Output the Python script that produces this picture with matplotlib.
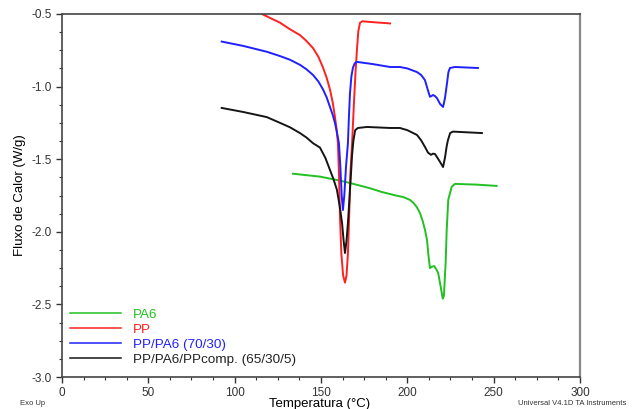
import numpy as np
import matplotlib.pyplot as plt

plt.switch_backend('agg')
plt.rcParams['font.family'] = ['Liberation Sans', 'DejaVu Sans']

# DSC curves (T in C, heat flow in W/g)
t_pa6 = [133.8, 149.4, 160.0, 166.8, 178.4, 185.0, 190.0, 194.0, 197.5, 199.5, 201.5, 203.5,
         205.5, 207.3, 209.0, 210.3, 211.4, 212.3, 213.1, 214.3, 215.6, 216.8, 217.8, 219.2,
         220.5, 221.2, 222.2, 222.8, 223.7, 225.7, 227.6, 240.0, 251.7]
y_pa6 = [-1.60, -1.62, -1.645, -1.664, -1.70, -1.725, -1.74, -1.752, -1.76, -1.77, -1.78, -1.80,
         -1.83, -1.87, -1.93, -1.99, -2.056, -2.17, -2.25, -2.24, -2.236, -2.26, -2.28, -2.37,
         -2.46, -2.44, -2.21, -1.99, -1.78, -1.69, -1.67, -1.675, -1.684]

t_pp = [115.8, 121.0, 126.3, 132.0, 137.8, 141.5, 145.4, 148.5, 151.2, 153.3, 155.2, 156.8,
        158.1, 159.1, 159.8, 160.4, 161.0, 161.8, 162.8, 163.9, 164.8, 165.6, 166.3, 167.0,
        168.0, 169.1, 170.0, 170.8, 171.6, 172.6, 174.0, 176.6, 182.0, 190.0]
y_pp = [-0.50, -0.53, -0.56, -0.605, -0.645, -0.685, -0.735, -0.795, -0.87, -0.94, -1.02, -1.11,
        -1.21, -1.30, -1.39, -1.60, -1.90, -2.15, -2.30, -2.35, -2.30, -2.15, -1.90, -1.60,
        -1.39, -1.11, -0.90, -0.75, -0.62, -0.56, -0.55, -0.553, -0.558, -0.565]

t_blend = [92.5, 105.0, 118.6, 126.3, 132.0, 137.8, 141.5, 145.4, 148.5, 151.2, 153.3, 155.2,
           156.8, 158.1, 159.3, 160.4, 161.2, 162.0, 162.7, 163.5, 164.5, 165.6, 166.2, 166.8,
           167.6, 168.5, 169.5, 170.8, 180.0, 190.0, 195.7, 200.0, 205.6, 208.0, 210.2, 211.8,
           213.1, 214.0, 214.9, 216.0, 217.2, 219.0, 220.7, 221.8, 223.0, 223.8, 224.7, 227.6,
           240.9]
y_blend = [-0.69, -0.72, -0.76, -0.79, -0.815, -0.85, -0.88, -0.92, -0.965, -1.02, -1.075, -1.14,
           -1.195, -1.25, -1.32, -1.39, -1.55, -1.75, -1.85, -1.75, -1.55, -1.39, -1.20, -1.045,
           -0.93, -0.87, -0.84, -0.83, -0.845, -0.865, -0.865, -0.875, -0.90, -0.92, -0.955, -1.02,
           -1.07, -1.065, -1.058, -1.065, -1.08, -1.12, -1.14, -1.08, -0.975, -0.90, -0.872, -0.865,
           -0.872]

t_comp = [92.5, 105.0, 118.6, 126.3, 132.0, 137.8, 141.5, 145.4, 149.4, 152.5, 155.2, 157.3,
          159.2, 160.8, 162.2, 163.1, 163.9, 164.8, 165.6, 166.5, 167.4, 168.0, 168.8, 169.8,
          171.4, 176.6, 190.0, 195.7, 200.0, 205.6, 208.0, 210.2, 212.0, 213.7, 214.8, 216.0,
          218.5, 220.7, 221.8, 222.8, 223.5, 224.8, 226.4, 243.2]
y_comp = [-1.147, -1.175, -1.21, -1.25, -1.28, -1.32, -1.35, -1.39, -1.42, -1.49, -1.574, -1.64,
          -1.71, -1.82, -1.94, -2.06, -2.146, -2.06, -1.94, -1.77, -1.595, -1.47, -1.37, -1.30,
          -1.285, -1.278, -1.285, -1.285, -1.30, -1.333, -1.37, -1.415, -1.455, -1.47, -1.462, -1.464,
          -1.51, -1.554, -1.49, -1.41, -1.37, -1.32, -1.31, -1.32]

labels = ['PA6', 'PP', 'PP/PA6 (70/30)', 'PP/PA6/PPcomp. (65/30/5)']
colors = ['#22c022', '#ff2020', '#2020ff', '#151515']

fig = plt.figure(figsize=(6.32, 4.09), dpi=100)
ax = fig.add_axes([0.0981, 0.0782, 0.8196, 0.8876])

series = [(t_pa6, y_pa6), (t_pp, y_pp), (t_blend, y_blend), (t_comp, y_comp)]
for (t, y), lab, c in zip(series, labels, colors):
    ax.plot(t, y, color=c, lw=1.4, label=lab)

ax.set_xlim(0, 300)
ax.set_ylim(-3.0, -0.5)
ax.set_xticks(np.arange(0, 301, 50))
ax.set_xticks(np.arange(0, 301, 12.5), minor=True)
ax.set_yticks(np.arange(-3.0, -0.49, 0.5))
ax.set_yticks(np.arange(-3.0, -0.49, 0.125), minor=True)
ax.yaxis.set_major_formatter(plt.FormatStrFormatter('%.1f'))
ax.tick_params(which='major', direction='out', length=4, width=1, labelsize=8.5, colors='#333333')
ax.tick_params(which='minor', direction='out', length=2.5, width=0.8, colors='#333333')

for side in ['left', 'bottom', 'top']:
    ax.spines[side].set_color('#444444')
    ax.spines[side].set_linewidth(1.2)
ax.spines['right'].set_color('#888888')
ax.spines['right'].set_linewidth(1.6)

ax.set_ylabel('Fluxo de Calor (W/g)', fontsize=9.5, labelpad=4)
fig.text(0.506, -0.003, 'Temperatura (°C)', ha='center', va='bottom', fontsize=9.5)
fig.text(0.032, 0.004, 'Exo Up', ha='left', va='bottom', fontsize=5.5, color='#333333')
fig.text(0.8196, 0.004, 'Universal V4.1D TA Instruments', ha='left', va='bottom',
         fontsize=5.5, color='#333333')

leg = ax.legend(loc='lower left', bbox_to_anchor=(0.0, 0.008), frameon=False, fontsize=9.7,
                handlelength=3.8, handletextpad=0.85, labelspacing=0.2, borderaxespad=0.2)
for line in leg.get_lines():
    line.set_linewidth(1.1)
for txt, c in zip(leg.get_texts(), colors):
    txt.set_color(c if c != '#151515' else '#222222')

fig.savefig('out.png', dpi=100)
